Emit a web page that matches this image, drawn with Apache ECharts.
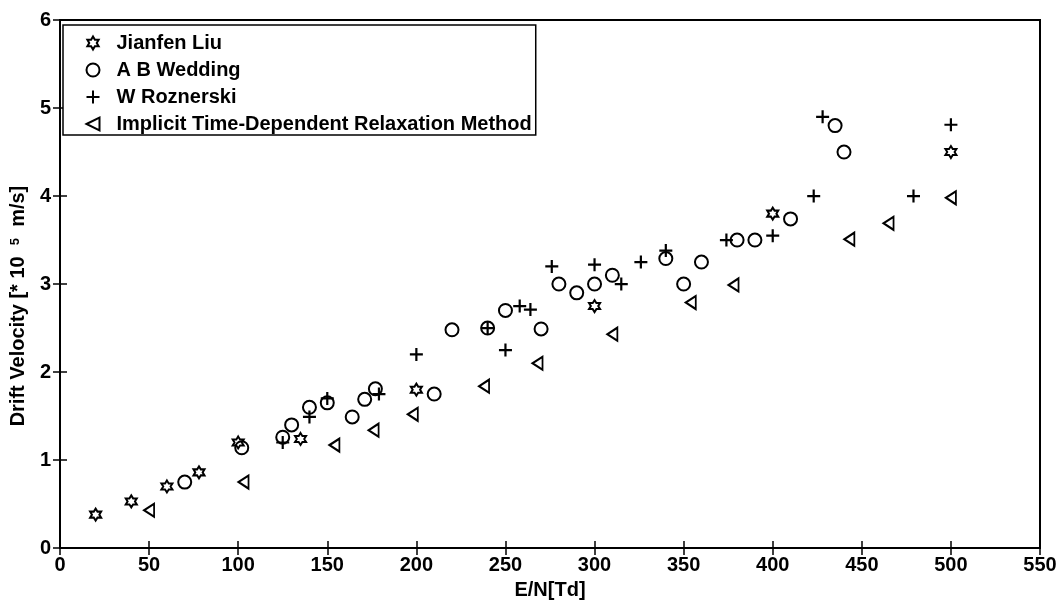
<!DOCTYPE html>
<html>
<head>
<meta charset="utf-8">
<title>Drift Velocity vs E/N</title>
<script src="https://cdn.jsdelivr.net/npm/echarts@6/dist/echarts.min.js"></script>
<style>
  html, body { margin: 0; padding: 0; background: #fff; }
  #chart { width: 1062px; height: 605px; }
</style>
</head>
<body>
<div id="chart"></div>
<script>
// Drift velocity (in 1e5 m/s) against reduced field E/N (Td)
const seriesNames = [
  'Jianfen Liu',
  'A B Wedding',
  'W Roznerski',
  'Implicit Time-Dependent Relaxation Method'
];

const liuEN = [20, 40, 60, 78, 100, 135, 200, 300, 400, 500];
const liuV  = [0.38, 0.53, 0.70, 0.86, 1.20, 1.24, 1.80, 2.75, 3.80, 4.50];

const weddingEN = [70, 102, 125, 130, 140, 150, 164, 171, 177, 210, 220, 240, 250, 270,
                   280, 290, 300, 310, 340, 350, 360, 380, 390, 410, 435, 440];
const weddingV  = [0.75, 1.14, 1.26, 1.40, 1.60, 1.65, 1.49, 1.69, 1.81, 1.75, 2.48, 2.50, 2.70, 2.49,
                   3.00, 2.90, 3.00, 3.10, 3.29, 3.00, 3.25, 3.50, 3.50, 3.74, 4.80, 4.50];

const roznerskiEN = [125, 140, 150, 179, 200, 240, 250, 258, 264, 276, 300, 315, 326,
                     340, 374, 400, 423, 428, 479, 500];
const roznerskiV  = [1.20, 1.49, 1.70, 1.75, 2.20, 2.50, 2.25, 2.75, 2.71, 3.20, 3.22, 3.00, 3.25,
                     3.38, 3.50, 3.55, 4.00, 4.90, 4.00, 4.81];

const implicitEN = [50, 103, 154, 176, 198, 238, 268, 310, 354, 378, 443, 465, 500];
const implicitV  = [0.43, 0.75, 1.17, 1.34, 1.52, 1.84, 2.10, 2.43, 2.79, 2.99, 3.51, 3.69, 3.98];

const xTicks = { min: 0, max: 550, interval: 50 };
const yTicks = { min: 0, max: 6, interval: 1 };

// Outline marker shapes
const HEXAGRAM = 'path://M0,-1L0.289,-0.5L0.866,-0.5L0.577,0L0.866,0.5L0.289,0.5L0,1L-0.289,0.5L-0.866,0.5L-0.577,0L-0.866,-0.5L-0.289,-0.5Z';
const PLUS = 'path://M0,-1L0,1M-1,0L1,0';
const TRI_LEFT = 'path://M-1,0L1,-1L1,1Z';

function pairs(xs, ys) { return xs.map((x, i) => [x, ys[i]]); }

const FONT = 'Liberation Sans, Arial, sans-serif';
const INK = '#000';

function markerSeries(name, xs, ys, symbol, size, width) {
  return {
    name: name,
    type: 'scatter',
    data: pairs(xs, ys),
    symbol: symbol,
    symbolSize: size,
    itemStyle: { color: 'none', borderColor: INK, borderWidth: width, opacity: 1 },
    emphasis: { disabled: true },
    z: 3
  };
}

const axisCommon = {
  axisLine: { show: true, lineStyle: { color: INK, width: 1.5 } },
  axisTick: { show: true, inside: true, length: 7, lineStyle: { color: INK, width: 1.5 } },
  splitLine: { show: false }
};

const tickFont = { fontFamily: FONT, fontWeight: 'bold', fontSize: 20, color: INK };

const chart = echarts.init(document.getElementById('chart'), null, { renderer: 'canvas' });

chart.setOption({
  animation: false,
  backgroundColor: '#fff',
  grid: {
    left: 60, right: 22, top: 20, bottom: 52,
    show: true, borderColor: INK, borderWidth: 2, backgroundColor: 'transparent'
  },
  legend: {
    orient: 'vertical',
    left: 63, top: 25,
    data: seriesNames,
    backgroundColor: '#fff',
    borderColor: INK,
    borderWidth: 1.5,
    padding: [8, 4, 1, 21],
    itemGap: 7,
    itemWidth: 13,
    itemHeight: 13,
    textStyle: { fontFamily: FONT, fontWeight: 'bold', fontSize: 20, color: INK, lineHeight: 20, padding: [0, 0, 0, 12] },
    selectedMode: false
  },
  xAxis: [
    Object.assign({
      type: 'value', position: 'bottom',
      min: xTicks.min, max: xTicks.max, interval: xTicks.interval,
      name: 'E/N[Td]', nameLocation: 'middle', nameGap: 30,
      nameTextStyle: { fontFamily: FONT, fontWeight: 'bold', fontSize: 20, color: INK },
      axisLabel: Object.assign({ margin: 7 }, tickFont)
    }, axisCommon),
    Object.assign({
      type: 'value', position: 'top',
      min: xTicks.min, max: xTicks.max, interval: xTicks.interval,
      axisLabel: { show: false }
    }, axisCommon)
  ],
  yAxis: [
    Object.assign({
      type: 'value', position: 'left',
      min: yTicks.min, max: yTicks.max, interval: yTicks.interval,
      name: 'Drift Velocity [* 10  {sup|5}  m/s]', nameLocation: 'middle', nameGap: 24,
      nameTextStyle: {
        fontFamily: FONT, fontWeight: 'bold', fontSize: 20, color: INK,
        padding: [0, 44, 0, 0],
        rich: { sup: { fontFamily: FONT, fontWeight: 'bold', fontSize: 13, color: INK, verticalAlign: 'top', padding: [0, 0, 5, 0] } }
      },
      axisLabel: Object.assign({ margin: 9 }, tickFont)
    }, axisCommon),
    Object.assign({
      type: 'value', position: 'right',
      min: yTicks.min, max: yTicks.max, interval: yTicks.interval,
      axisLabel: { show: false }
    }, axisCommon)
  ],
  series: [
    markerSeries(seriesNames[0], liuEN, liuV, HEXAGRAM, [11, 12], 2),
    markerSeries(seriesNames[1], weddingEN, weddingV, 'circle', 13, 2),
    markerSeries(seriesNames[2], roznerskiEN, roznerskiV, PLUS, 13, 2.2),
    markerSeries(seriesNames[3], implicitEN, implicitV, TRI_LEFT, [10, 13], 2)
  ]
});
</script>
</body>
</html>
